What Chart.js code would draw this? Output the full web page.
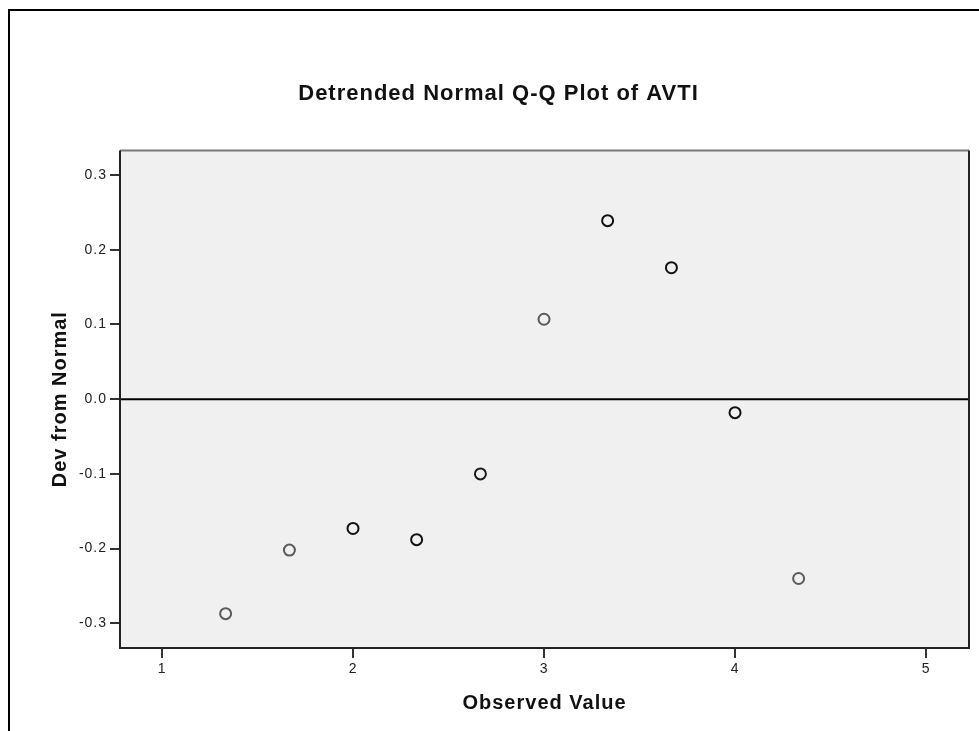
<!DOCTYPE html>
<html>
<head>
<meta charset="utf-8">
<script src="https://cdn.jsdelivr.net/npm/chart.js@4/dist/chart.umd.min.js"></script>
<style>
  body { margin: 0; background: #fff; }
  #wrap { width: 979px; height: 731px; }
</style>
</head>
<body>
<div id="wrap"><canvas id="qq" width="979" height="731"></canvas></div>
<script>
// observed values and their deviation from the normal line
const observed = [1.333, 1.667, 2.0, 2.333, 2.667, 3.0, 3.333, 3.667, 4.0, 4.333];
const devFromNormal = [-0.287, -0.202, -0.173, -0.188, -0.100, 0.107, 0.239, 0.176, -0.018, -0.240];

const xTicks = [1, 2, 3, 4, 5];
const yTicks = [-0.3, -0.2, -0.1, 0.0, 0.1, 0.2, 0.3];

// darker rings for the heavier markers
const pointEdge = ['#5a5a5a', '#5a5a5a', '#111', '#111', '#1a1a1a', '#5a5a5a', '#111', '#111', '#111', '#5a5a5a'];

const FONT = 'Arial, "Liberation Sans", sans-serif';

const plotDecor = {
    id: 'plotDecor',
    beforeDraw(chart) {
        const { ctx, chartArea: a } = chart;
        // slightly looser text, applies to every label drawn after this
        ctx.letterSpacing = '1px';
        ctx.save();
        // outer frame
        ctx.strokeStyle = '#000';
        ctx.lineWidth = 2;
        ctx.strokeRect(9, 10, 990, 740);
        // plot background
        ctx.fillStyle = '#f0f0f0';
        ctx.fillRect(a.left, a.top, a.right - a.left, a.bottom - a.top);
        ctx.restore();
    },
    beforeDatasetsDraw(chart) {
        const { ctx, chartArea: a, scales } = chart;
        const y0 = scales.y.getPixelForValue(0);
        ctx.save();
        ctx.strokeStyle = '#000';
        ctx.lineWidth = 2;
        ctx.beginPath();
        ctx.moveTo(a.left, y0);
        ctx.lineTo(a.right, y0);
        ctx.stroke();
        ctx.restore();
    },
    afterDraw(chart) {
        const { ctx, chartArea: a } = chart;
        ctx.save();
        ctx.lineWidth = 2;
        ctx.strokeStyle = '#777';
        ctx.beginPath();
        ctx.moveTo(a.left, a.top);
        ctx.lineTo(a.right, a.top);
        ctx.stroke();
        ctx.strokeStyle = '#222';
        ctx.beginPath();
        ctx.moveTo(a.left, a.top);
        ctx.lineTo(a.left, a.bottom);
        ctx.lineTo(a.right, a.bottom);
        ctx.lineTo(a.right, a.top);
        ctx.stroke();
        ctx.restore();
    }
};

new Chart(document.getElementById('qq'), {
    type: 'scatter',
    data: {
        datasets: [{
            data: observed.map((x, i) => ({ x: x, y: devFromNormal[i] })),
            pointRadius: 5.5,
            pointHoverRadius: 5.5,
            pointBorderWidth: 2,
            pointBorderColor: pointEdge,
            pointBackgroundColor: 'rgba(0,0,0,0)'
        }]
    },
    options: {
        responsive: false,
        animation: false,
        layout: { padding: { left: 28, right: 10, top: 0, bottom: 0 } },
        plugins: {
            legend: { display: false },
            tooltip: { enabled: false },
            title: {
                display: true,
                text: 'Detrended Normal Q-Q Plot of AVTI',
                color: '#111',
                font: { family: FONT, size: 22, weight: 'bold' },
                padding: { top: 81, bottom: 43 }
            }
        },
        scales: {
            x: {
                type: 'linear',
                min: 0.78,
                max: 5.225,
                afterBuildTicks: s => { s.ticks = xTicks.map(v => ({ value: v })); },
                afterFit: s => { s.height = 83; },
                border: { display: false },
                grid: { drawOnChartArea: false, drawTicks: true, tickLength: 10, color: '#333', lineWidth: 2 },
                ticks: { color: '#222', padding: 3, maxRotation: 0, font: { family: FONT, size: 14 } },
                title: {
                    display: true,
                    text: 'Observed Value',
                    color: '#111',
                    font: { family: FONT, size: 20, weight: 'bold' },
                    padding: { top: 0, bottom: 16 }
                }
            },
            y: {
                type: 'linear',
                min: -0.333,
                max: 0.333,
                afterBuildTicks: s => { s.ticks = yTicks.map(v => ({ value: v })); },
                afterFit: s => { s.width = 92; },
                border: { display: false },
                grid: { drawOnChartArea: false, drawTicks: true, tickLength: 10, color: '#333', lineWidth: 2 },
                ticks: {
                    color: '#222',
                    padding: 3,
                    font: { family: FONT, size: 14 },
                    callback: v => v.toFixed(1)
                },
                title: {
                    display: true,
                    text: 'Dev from Normal',
                    color: '#111',
                    font: { family: FONT, size: 20, weight: 'bold' },
                    padding: { top: 20, bottom: 0 }
                }
            }
        }
    },
    plugins: [plotDecor]
});
</script>
</body>
</html>
